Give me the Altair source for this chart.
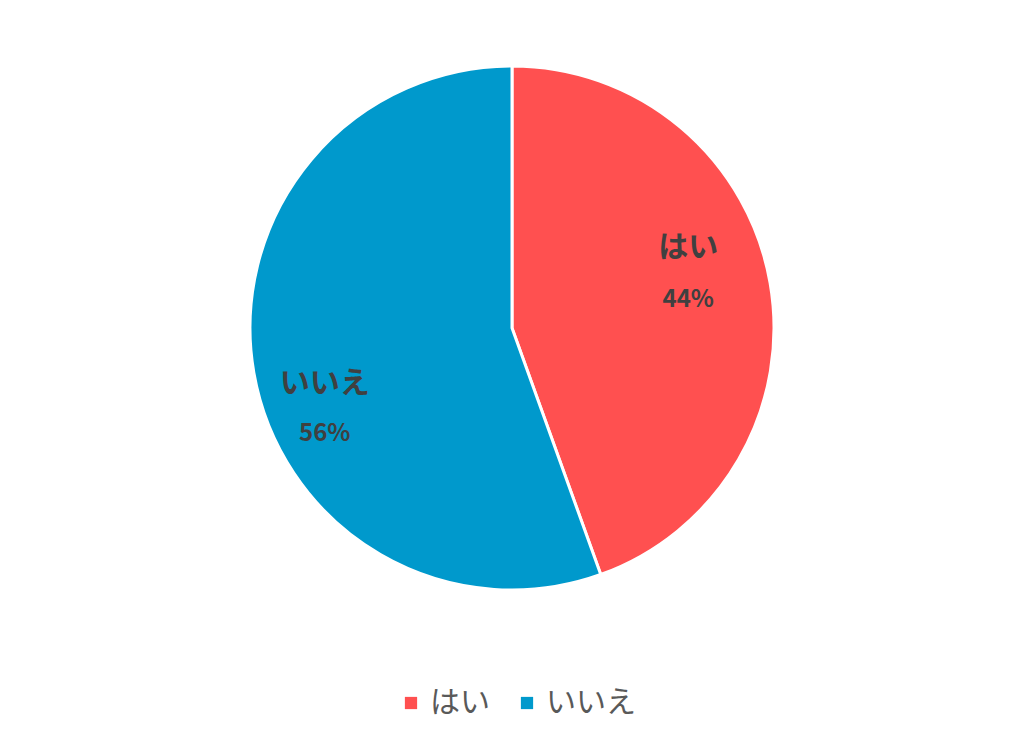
import altair as alt
import pandas as pd

categories = ["はい", "いいえ"]
values = [44.5, 55.5]
labels = ["44%", "56%"]
colors = ["#FF5050", "#0099CC"]

df = pd.DataFrame({"cat": categories, "val": values, "pct": labels, "order": [0, 1]})

color = alt.Color(
    "cat:N",
    scale=alt.Scale(domain=categories, range=colors),
    sort=categories,
    legend=alt.Legend(
        title=None,
        orient="none",
        direction="horizontal",
        legendX=388,
        legendY=680,
        symbolType="square",
        symbolSize=150,
        symbolStrokeWidth=0,
        labelFont="Noto Sans CJK JP",
        labelFontSize=30,
        labelColor="#595959",
        labelLimit=400,
        columnPadding=22,
        symbolOffset=0,
    ),
)

pie = alt.Chart(df).mark_arc(outerRadius=262, stroke="white", strokeWidth=3).encode(
    theta=alt.Theta("val:Q", stack=True),
    order=alt.Order("order:Q"),
    color=color,
)

lab = (
    alt.Chart(df)
    .transform_window(cum="sum(val)", sort=[alt.SortField("order")])
    .transform_calculate(mid="datum.cum - datum.val / 2")
)
theta_mid = alt.Theta("mid:Q", stack=None, scale=alt.Scale(domain=[0, 100]))

font = "Noto Sans CJK JP"
layers = [pie]
# label offsets (styling) per slice
offsets = {"はい": (-6, -48, 4), "いいえ": (-5, 24, 74)}
for cat, (dx, dy1, dy2) in offsets.items():
    b = lab.transform_filter(alt.datum.cat == cat)
    layers.append(
        b.mark_text(radius=185, dx=dx, dy=dy1, font=font, fontSize=30,
                    fontWeight="bold", color="#404040").encode(theta=theta_mid, text="cat:N")
    )
    layers.append(
        b.mark_text(radius=185, dx=dx, dy=dy2, font=font, fontSize=24,
                    fontWeight="bold", color="#404040").encode(theta=theta_mid, text="pct:N")
    )

chart = (
    alt.layer(*layers)
    .resolve_scale(theta="independent")
    .properties(width=1008, height=640,
                padding={"left": 0, "top": 0, "right": 0, "bottom": 16})
    .configure_view(stroke=None)
)

chart.save("out.html", embed_options={"renderer": "svg", "actions": False})
